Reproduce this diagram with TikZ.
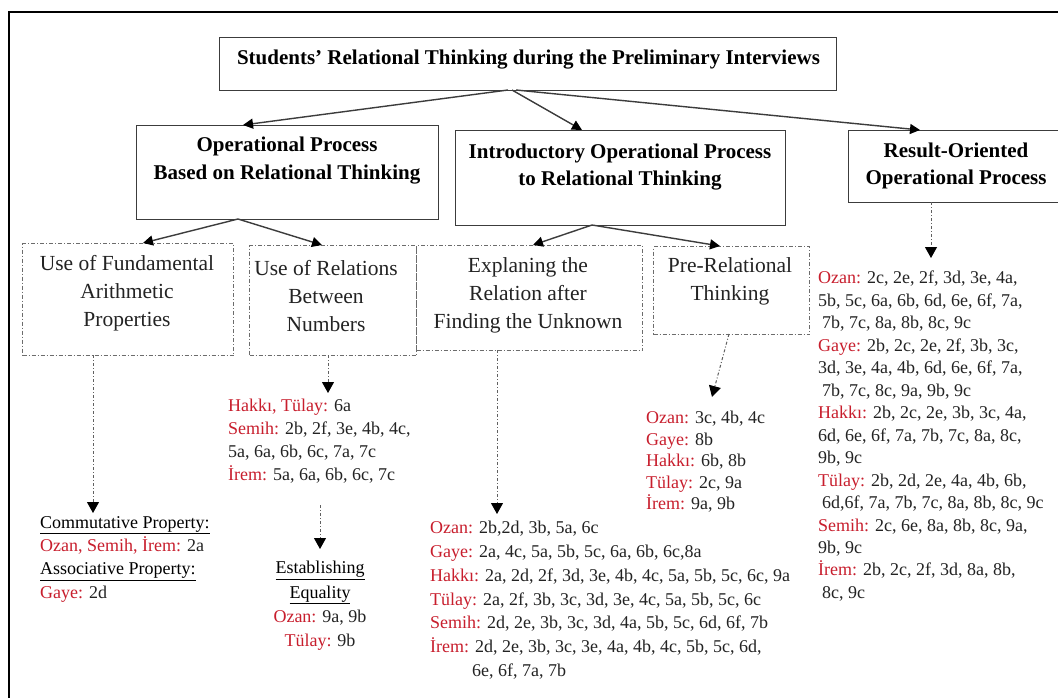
\documentclass[tikz,border=0pt]{standalone}
\usepackage{fontspec}
\setmainfont{Liberation Serif}
\usetikzlibrary{arrows.meta}
\definecolor{nm}{RGB}{200,30,45}
\definecolor{tx}{RGB}{35,35,35}
\definecolor{ln}{RGB}{60,60,60}
\newcommand{\nm}[1]{\textcolor{nm}{#1}}
\newcommand{\dfont}[1]{\fontsize{18}{#1}\selectfont}
\begin{document}
\begin{tikzpicture}[x=1pt,y=-1pt,
  box/.style={draw=ln, line width=1.2pt, inner sep=0pt, anchor=north west},
  dbox/.style={draw=gray!85!black, line width=1pt, dash pattern=on 4pt off 2pt on 1pt off 2pt, anchor=north west, inner sep=0pt},
  arr/.style={draw=ln, line width=1.4pt, -{Triangle[length=10pt,width=10pt,color=black]}},
  darr/.style={draw=gray!75!black, line width=1pt, dash pattern=on 3pt off 2pt on 1pt off 2pt, -{Triangle[length=11pt,width=12pt,color=black]}},
  btxt/.style={font=\fontsize{21}{27.5}\selectfont\bfseries, text=black, align=center, inner sep=0pt},
  dtitle/.style={font=\fontsize{21.5}{28}\selectfont, text=tx, align=center, inner sep=0pt},
  dtxt/.style={text=tx, align=left, inner sep=0pt, anchor=north west}]
\useasboundingbox (0,0) rectangle (1058,697);
\clip (0,0) rectangle (1058,697);
\fill[white] (0,0) rectangle (1058,697);
% outer frame
\draw[line width=2pt, black] (9,700) -- (9,12) -- (1062,12);

% main boxes
\node[box, minimum width=617pt, minimum height=53pt] (T) at (219,37) {};
\node[btxt, font=\fontsize{21}{24}\selectfont\bfseries] (Tt) at (528.5,60) {Students’ Relational Thinking during the Preliminary Interviews};
\node[box, minimum width=302pt, minimum height=94pt] (A) at (136,125) {};
\node[btxt] (At) at (287,160.5) {Operational Process\\Based on Relational Thinking};
\node[box, minimum width=330pt, minimum height=95pt] (B) at (455,130) {};
\node[btxt] (Bt) at (620,167) {Introductory Operational Process\\to Relational Thinking};
\node[box, minimum width=230pt, minimum height=72pt] (C) at (848,130) {};
\node[btxt] (Ct) at (956,166) {Result-Oriented\\Operational Process};

% dashed boxes
\node[dbox, minimum width=211pt, minimum height=112pt] (D1) at (22,243) {};
\node[dtitle] (D1t) at (127,293) {Use of Fundamental\\Arithmetic\\Properties};
\node[dbox, minimum width=167pt, minimum height=110pt] (D2) at (249,245) {};
\node[dtitle] (D2t) at (326,296) {Use of Relations\\Between\\Numbers};
\node[dbox, minimum width=226pt, minimum height=105pt] (D3) at (416,245) {};
\node[dtitle] (D3t) at (528,295) {Explaning the\\Relation after\\Finding the Unknown};
\node[dbox, minimum width=156pt, minimum height=88pt] (D4) at (653,246) {};
\node[dtitle] (D4t) at (730,281.5) {Pre-Relational\\Thinking};

% solid connectors
\coordinate (ts1) at (508,90);
\coordinate (ts2) at (512,90);
\coordinate (ts3) at (516,90);
\coordinate (ta) at (243,125);
\coordinate (tb) at (582,130);
\coordinate (tc) at (920,130);
\draw[arr] (ts1) -- (ta);
\draw[arr] (ts2) -- (tb);
\draw[arr] (ts3) -- (tc);
\coordinate (as) at (238,219);
\coordinate (a1) at (143,243);
\coordinate (a2) at (322,245);
\draw[arr] (as) -- (a1);
\draw[arr] (as) -- (a2);
\coordinate (bs) at (592,225);
\coordinate (b1) at (533,245);
\coordinate (b2) at (720,246);
\draw[arr] (bs) -- (b1);
\draw[arr] (bs) -- (b2);

% data texts
\node[dtxt, font=\dfont{23.3}] (E1) at (40,516) {\textcolor{black}{\underline{Commutative Property:}}\\\nm{Ozan, Semih, İrem:} 2a\\\textcolor{black}{\underline{Associative Property:}}\\\nm{Gaye:} 2d};
\node[dtxt, font=\dfont{23}] (E2) at (228,399) {\nm{Hakkı, Tülay:} 6a\\\nm{Semih:} 2b, 2f, 3e, 4b, 4c,\\5a, 6a, 6b, 6c, 7a, 7c\\\nm{İrem:} 5a, 6a, 6b, 6c, 7c};
\node[dtxt, font=\dfont{24.3}, align=center, anchor=north] (E3) at (320,561) {\textcolor{black}{\underline{Establishing}}\\\textcolor{black}{\underline{Equality}}\\\nm{Ozan:} 9a, 9b\\\nm{Tülay:} 9b};
\node[dtxt, font=\dfont{21.5}] (E4) at (646,411) {\nm{Ozan:} 3c, 4b, 4c\\\nm{Gaye:} 8b\\\nm{Hakkı:} 6b, 8b\\\nm{Tülay:} 2c, 9a\\\nm{İrem:} 9a, 9b};
\node[dtxt, font=\dfont{23.8}] (E5) at (430,521) {\nm{Ozan:} 2b,2d, 3b, 5a, 6c\\\nm{Gaye:} 2a, 4c, 5a, 5b, 5c, 6a, 6b, 6c,8a\\\nm{Hakkı:} 2a, 2d, 2f, 3d, 3e, 4b, 4c, 5a, 5b, 5c, 6c, 9a\\\nm{Tülay:} 2a, 2f, 3b, 3c, 3d, 3e, 4c, 5a, 5b, 5c, 6c\\\nm{Semih:} 2d, 2e, 3b, 3c, 3d, 4a, 5b, 5c, 6d, 6f, 7b\\\nm{İrem:} 2d, 2e, 3b, 3c, 3e, 4a, 4b, 4c, 5b, 5c, 6d,\\\hspace*{42pt}6e, 6f, 7a, 7b};
\node[dtxt, font=\dfont{22.47}] (E6) at (818,271) {\nm{Ozan:} 2c, 2e, 2f, 3d, 3e, 4a,\\5b, 5c, 6a, 6b, 6d, 6e, 6f, 7a,\\\hspace*{4pt}7b, 7c, 8a, 8b, 8c, 9c\\\nm{Gaye:} 2b, 2c, 2e, 2f, 3b, 3c,\\3d, 3e, 4a, 4b, 6d, 6e, 6f, 7a,\\\hspace*{4pt}7b, 7c, 8c, 9a, 9b, 9c\\\nm{Hakkı:} 2b, 2c, 2e, 3b, 3c, 4a,\\6d, 6e, 6f, 7a, 7b, 7c, 8a, 8c,\\9b, 9c\\\nm{Tülay:} 2b, 2d, 2e, 4a, 4b, 6b,\\\hspace*{4pt}6d,6f, 7a, 7b, 7c, 8a, 8b, 8c, 9c\\\nm{Semih:} 2c, 6e, 8a, 8b, 8c, 9a,\\9b, 9c\\\nm{İrem:} 2b, 2c, 2f, 3d, 8a, 8b,\\\hspace*{4pt}8c, 9c};

% dash-dot connectors
\coordinate (d1s) at (93,355);
\coordinate (d1e) at (93,513);
\draw[darr] (d1s) -- (d1e);
\coordinate (d2s) at (328,355);
\coordinate (d2e) at (328,393);
\draw[darr] (d2s) -- (d2e);
\coordinate (e2s) at (320,505);
\coordinate (e2e) at (320,549);
\draw[darr] (e2s) -- (e2e);
\coordinate (d3s) at (497,350);
\coordinate (d3e) at (497,514);
\draw[darr] (d3s) -- (d3e);
\coordinate (d4s) at (729,334);
\coordinate (d4e) at (712,397);
\draw[darr] (d4s) -- (d4e);
\coordinate (cs) at (931,202);
\coordinate (ce) at (931,258);
\draw[darr] (cs) -- (ce);
\end{tikzpicture}
\end{document}
